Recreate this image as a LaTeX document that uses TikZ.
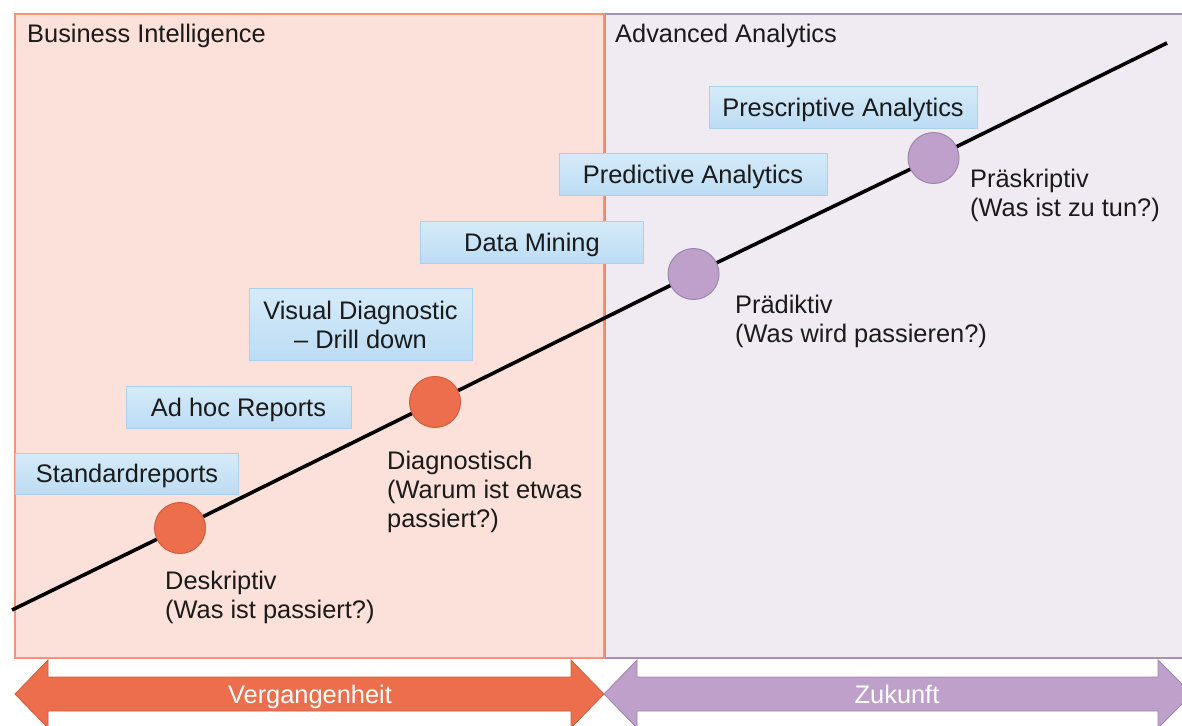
\documentclass[tikz,border=0pt]{standalone}
\usepackage{fontspec}
\setmainfont{Liberation Sans}
\definecolor{bifill}{HTML}{FCE1DA}
\definecolor{biline}{HTML}{F2937A}
\definecolor{aafill}{HTML}{F0EBF3}
\definecolor{aaline}{HTML}{A690B6}
\definecolor{orng}{HTML}{EC6E4C}
\definecolor{orngline}{HTML}{D05E3E}
\definecolor{purp}{HTML}{BFA0CB}
\definecolor{purpline}{HTML}{9C86AE}
\definecolor{bluetop}{HTML}{D6EBF9}
\definecolor{bluebot}{HTML}{BCDCF4}
\definecolor{blueline}{HTML}{A9D1EE}
\definecolor{ink}{HTML}{1A1A1A}
\tikzset{
  txt/.style={font=\fontsize{25.4}{29}\selectfont, text=ink},
  capcentred/.style={text height=18.3pt, text depth=0pt},
  region/.style={rectangle, line width=1.2pt, inner sep=0pt},
  tool/.style={txt, rectangle, draw=blueline, line width=0.8pt,
    top color=bluetop, bottom color=bluebot, inner sep=0pt, align=center},
  phasedot/.style={circle, minimum size=51pt, inner sep=0pt, line width=1pt},
  pastdot/.style={phasedot, fill=orng, draw=orngline},
  futuredot/.style={phasedot, fill=purp, draw=purpline},
  phaselabel/.style={txt, anchor=north west, inner sep=0pt, align=left},
  title/.style={txt, anchor=base west, inner sep=0pt},
  arrowtext/.style={font=\fontsize{25.4}{29}\selectfont, text=white, inner sep=0pt, capcentred},
  trend/.style={line width=3.6pt, black}
}
\begin{document}
\begin{tikzpicture}[x=1pt, y=-1pt]
\useasboundingbox (0,0) rectangle (1182,725);
\clip (0,0) rectangle (1182,725);

% the two analytics regions
\node[region, fill=aafill, draw=aaline, minimum width=592pt, minimum height=644pt] (aa) at (901,336) {};
\node[region, fill=bifill, draw=biline, minimum width=589pt, minimum height=644pt] (bi) at (309.5,336) {};
\node[title] (bititle) at (27,43) {Business Intelligence};
\node[title] (aatitle) at (615,43) {Advanced Analytics};

% time arrows
\draw[fill=orng, draw=orngline, line width=0.8pt]
  (15,694) -- (48,660) -- (48,677) -- (571,677) -- (571,660) -- (604,694)
  -- (571,728) -- (571,711) -- (48,711) -- (48,728) -- cycle;
\draw[fill=purp, draw=purpline, line width=0.8pt]
  (604,694) -- (637,660) -- (637,677) -- (1158,677) -- (1158,660) -- (1192,694)
  -- (1158,728) -- (1158,711) -- (637,711) -- (637,728) -- cycle;
\node[arrowtext] (past) at (310,694) {Vergangenheit};
\node[arrowtext] (future) at (897,694) {Zukunft};

% tools
\node[tool, capcentred, minimum width=223pt, minimum height=41pt] (std) at (127,473.5) {Standardreports};
\node[tool, capcentred, minimum width=225pt, minimum height=42pt] (adhoc) at (238.5,407) {Ad hoc Reports};
\node[tool, minimum width=223pt, minimum height=72pt] (visual) at (360.5,324.5) {Visual Diagnostic\\– Drill down};
\node[tool, capcentred, minimum width=223pt, minimum height=42pt] (mining) at (532,242) {Data Mining};
\node[tool, capcentred, minimum width=268pt, minimum height=42pt] (predict) at (693,174) {Predictive Analytics};
\node[tool, capcentred, minimum width=268pt, minimum height=42pt] (prescr) at (843,107) {Prescriptive Analytics};

% maturity line and its stages
\coordinate (lstart) at (12,610);
\coordinate (lend) at (1167,43);
\path (180,528) coordinate (c1) (435,402) coordinate (c2) (693.5,274) coordinate (c3) (933.5,158) coordinate (c4);
\draw[trend] (lstart) -- (c1) -- (c2) -- (c3) -- (c4) -- (lend);
\node[pastdot] (desk) at (c1) {};
\node[pastdot] (diag) at (c2) {};
\node[futuredot] (pred) at (c3) {};
\node[futuredot] (presk) at (c4) {};

\node[phaselabel] (deskl) at (165,571) {Deskriptiv\\(Was ist passiert?)};
\node[phaselabel] (diagl) at (387,451) {Diagnostisch\\(Warum ist etwas\\passiert?)};
\node[phaselabel] (predl) at (735,294.5) {Prädiktiv\\(Was wird passieren?)};
\node[phaselabel] (preskl) at (970,169) {Präskriptiv\\(Was ist zu tun?)};
\end{tikzpicture}
\end{document}
